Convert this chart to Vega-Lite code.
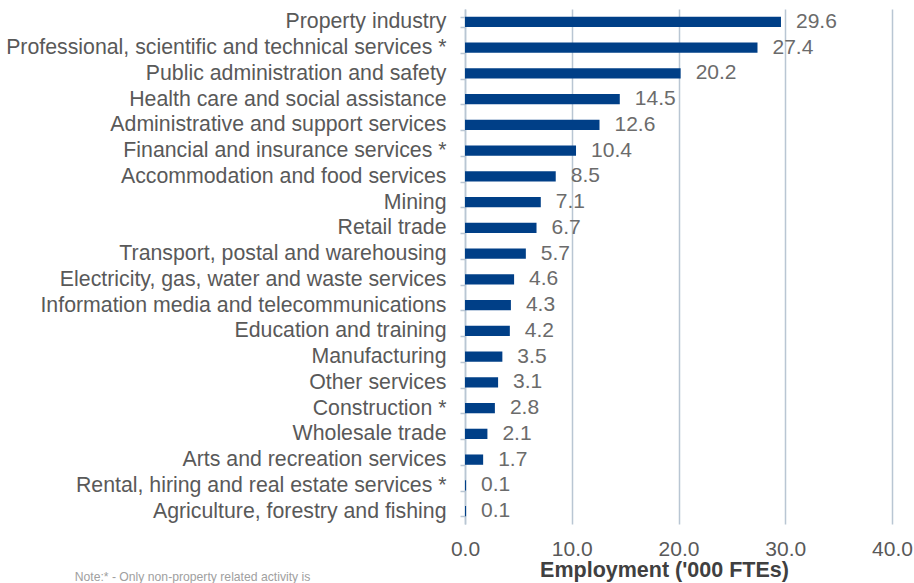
{
  "$schema": "https://vega.github.io/schema/vega-lite/v6.json",
  "width": 427,
  "height": 515,
  "padding": {"left": 5, "top": -2, "right": 5, "bottom": 0},
  "background": "white",
  "config": {
    "view": {"stroke": null},
    "font": "Liberation Sans"
  },
  "title": {
    "text": "Note:* - Only non-property related activity is",
    "orient": "bottom",
    "anchor": "start",
    "frame": "bounds",
    "dx": 69,
    "offset": -10,
    "fontSize": 12.2,
    "fontWeight": "normal",
    "color": "#a0a0a0",
    "font": "Liberation Sans"
  },
  "data": {
    "values": [
      {"industry": "Property industry", "value": 29.6},
      {"industry": "Professional, scientific and technical services *", "value": 27.4},
      {"industry": "Public administration and safety", "value": 20.2},
      {"industry": "Health care and social assistance", "value": 14.5},
      {"industry": "Administrative and support services", "value": 12.6},
      {"industry": "Financial and insurance services *", "value": 10.4},
      {"industry": "Accommodation and food services", "value": 8.5},
      {"industry": "Mining", "value": 7.1},
      {"industry": "Retail trade", "value": 6.7},
      {"industry": "Transport, postal and warehousing", "value": 5.7},
      {"industry": "Electricity, gas, water and waste services", "value": 4.6},
      {"industry": "Information media and telecommunications", "value": 4.3},
      {"industry": "Education and training", "value": 4.2},
      {"industry": "Manufacturing", "value": 3.5},
      {"industry": "Other services", "value": 3.1},
      {"industry": "Construction *", "value": 2.8},
      {"industry": "Wholesale trade", "value": 2.1},
      {"industry": "Arts and recreation services", "value": 1.7},
      {"industry": "Rental, hiring and real estate services *", "value": 0.1},
      {"industry": "Agriculture, forestry and fishing", "value": 0.1}
    ]
  },
  "encoding": {
    "y": {
      "field": "industry",
      "type": "nominal",
      "sort": null,
      "scale": {"paddingInner": 0.6, "paddingOuter": 0.3},
      "axis": {
        "title": null,
        "labelFontSize": 21.3,
        "labelColor": "#595959",
        "labelPadding": 14,
        "labelLimit": 600,
        "domainColor": "#b9c6d3",
        "domainWidth": 1.5,
        "tickColor": "#b9c6d3",
        "tickSize": 5,
        "tickWidth": 1.5,
        "tickBand": "extent"
      }
    },
    "x": {
      "field": "value",
      "type": "quantitative",
      "scale": {"domain": [0, 40], "nice": false},
      "axis": {
        "values": [0, 10, 20, 30, 40],
        "format": ".1f",
        "title": "Employment ('000 FTEs)",
        "titleFontSize": 21.5,
        "titleFontWeight": "bold",
        "titleColor": "#404040",
        "titlePadding": 0,
        "titleX": 199,
        "titleAnchor": "middle",
        "labelFontSize": 21,
        "labelColor": "#595959",
        "labelPadding": 14,
        "labelFlush": false,
        "ticks": false,
        "domain": false,
        "grid": true,
        "gridColor": "#b9c6d3",
        "gridWidth": 1.5
      }
    }
  },
  "layer": [
    {"mark": {"type": "bar", "color": "#003f87"}},
    {
      "mark": {"type": "text", "align": "left", "dx": 15, "fontSize": 21, "color": "#6b6b6b", "baseline": "middle"},
      "encoding": {"text": {"field": "value", "type": "quantitative", "format": ".1f"}}
    }
  ]
}
